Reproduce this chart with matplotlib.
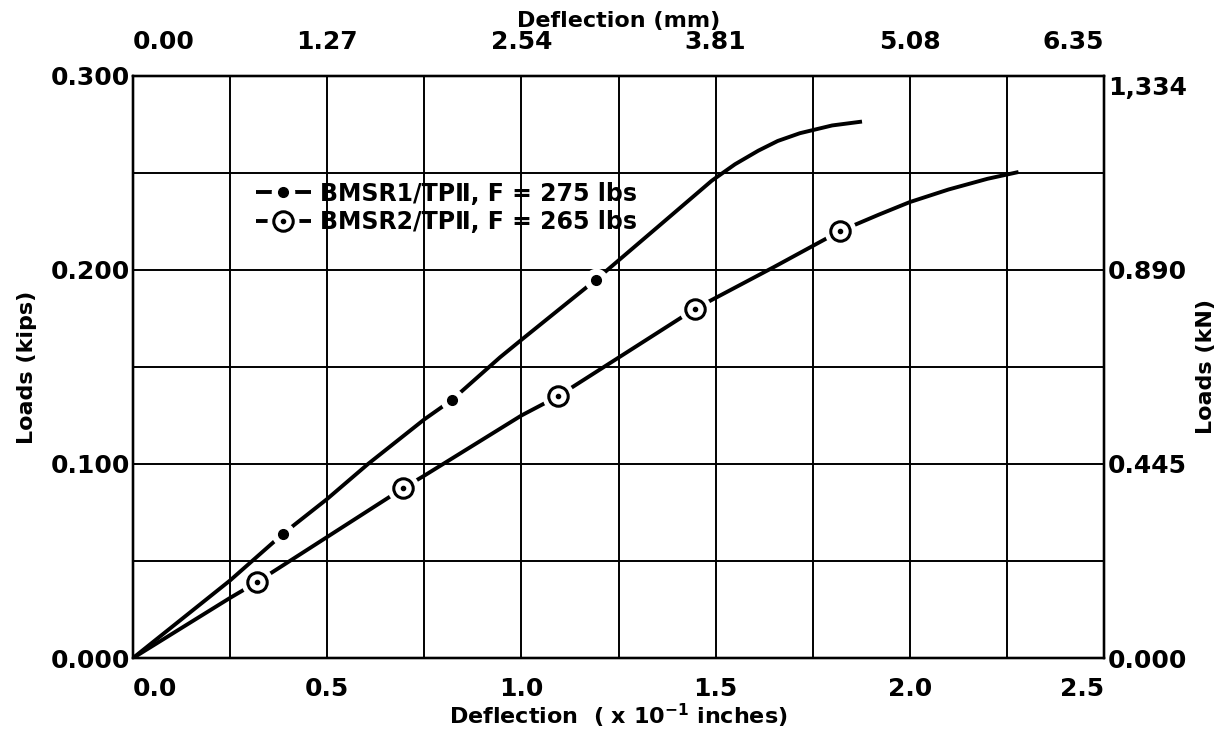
import matplotlib.pyplot as plt
from matplotlib.legend_handler import HandlerTuple

# Deflection in units of 1e-1 inches, loads in kips
s1_x = [0.0, 0.25, 0.386, 0.5, 0.605, 0.75, 0.821, 0.945, 1.0, 1.192, 1.35, 1.49, 1.55, 1.61, 1.66, 1.717, 1.8, 1.877]
s1_y = [0.0, 0.040, 0.064, 0.082, 0.100, 0.123, 0.133, 0.155, 0.164, 0.195, 0.222, 0.246, 0.2545, 0.2615, 0.2665, 0.2705, 0.2745, 0.2765]
s1_mark_x = [0.386, 0.821, 1.192]
s1_mark_y = [0.064, 0.133, 0.195]

s2_x = [0.0, 0.25, 0.318, 0.5, 0.696, 0.75, 1.0, 1.095, 1.447, 1.65, 1.82, 1.92, 2.0, 2.1, 2.2, 2.28]
s2_y = [0.0, 0.031, 0.039, 0.0624, 0.0876, 0.094, 0.125, 0.135, 0.180, 0.2015, 0.220, 0.2285, 0.235, 0.2415, 0.247, 0.2505]
s2_mark_x = [0.318, 0.696, 1.095, 1.447, 1.82]
s2_mark_y = [0.039, 0.0876, 0.135, 0.180, 0.220]

labels = ["BMSR1/TPⅡ, F = 275 lbs", "BMSR2/TPⅡ, F = 265 lbs"]

x_ticks = [0.0, 0.5, 1.0, 1.5, 2.0, 2.5]
x_labels = ["0.0", "0.5", "1.0", "1.5", "2.0", "2.5"]
mm_labels = ["0.00", "1.27", "2.54", "3.81", "5.08", "6.35"]
y_ticks = [0.0, 0.1, 0.2, 0.3]
kips_labels = ["0.000", "0.100", "0.200", "0.300"]
kn_labels = ["0.000", "0.445", "0.890", "1,334"]

plt.rcParams['font.family'] = ['DejaVu Sans']
plt.rcParams['font.weight'] = 'bold'

fig = plt.figure(figsize=(12.25, 7.42), dpi=100)
ax = fig.add_axes([0.1086, 0.1132, 0.7926, 0.7844])

ax.set_xlim(0, 2.5)
ax.set_ylim(0, 0.3)

# grid every 0.25 in x, 0.05 in y
for gx in [0.25 * i for i in range(1, 10)]:
    ax.axvline(gx, color='black', lw=1.4, zorder=1)
for gy in [0.05 * i for i in range(1, 6)]:
    ax.axhline(gy, color='black', lw=1.4, zorder=1)
for sp in ax.spines.values():
    sp.set_linewidth(1.6)

lw = 2.8
# series 1: line with small dots, gaps around dots
l1, = ax.plot(s1_x, s1_y, color='black', lw=lw, zorder=3, solid_capstyle='butt', solid_joinstyle='round')
h1, = ax.plot(s1_mark_x, s1_mark_y, ls='none', marker='o', ms=17, color='white', mec='none', zorder=4)
m1, = ax.plot(s1_mark_x, s1_mark_y, ls='none', marker='o', ms=7, color='black', zorder=5)

# series 2: line with dotted circles
l2, = ax.plot(s2_x, s2_y, color='black', lw=lw, zorder=3, solid_capstyle='butt', solid_joinstyle='round')
h2, = ax.plot(s2_mark_x, s2_mark_y, ls='none', marker='o', ms=23, color='white', mec='none', zorder=4)
m2, = ax.plot(s2_mark_x, s2_mark_y, ls='none', marker='o', ms=14, mfc='white', mec='black', mew=2.2, zorder=5)
c2, = ax.plot(s2_mark_x, s2_mark_y, ls='none', marker='o', ms=3, color='black', zorder=6)

leg = ax.legend([(l1, h1, m1), (l2, h2, m2, c2)], labels,
                handler_map={tuple: HandlerTuple(ndivide=1)},
                loc='upper left', bbox_to_anchor=(0.105, 0.855), frameon=False,
                handlelength=2.3, handletextpad=0.4, labelspacing=0.2,
                prop={'size': 17, 'weight': 'bold'})

tick_fs = 18
ax.set_xticks(x_ticks)
ax.set_xticklabels(x_labels, fontsize=tick_fs, fontweight='bold')
ax.set_yticks(y_ticks)
ax.set_yticklabels(kips_labels, fontsize=tick_fs, fontweight='bold')
ax.tick_params(axis='x', length=0, pad=14)
ax.tick_params(axis='y', length=0, pad=2)
ax.get_xticklabels()[0].set_horizontalalignment('left')
ax.get_xticklabels()[-1].set_horizontalalignment('right')

ax.set_xlabel("Deflection  ( x 10$^{\\mathbf{-1}}$ inches)", fontsize=16, fontweight='bold', labelpad=0)
ax.set_ylabel("Loads (kips)", fontsize=16, fontweight='bold', labelpad=10)

top = ax.twiny()
top.set_xlim(ax.get_xlim())
top.set_xticks(x_ticks)
top.set_xticklabels(mm_labels, fontsize=tick_fs, fontweight='bold')
top.tick_params(length=0, pad=16)
top.get_xticklabels()[0].set_horizontalalignment('left')
top.get_xticklabels()[-1].set_horizontalalignment('right')
top.set_xlabel("Deflection (mm)", fontsize=16, fontweight='bold', labelpad=2)

right = ax.twinx()
right.set_ylim(ax.get_ylim())
right.set_yticks(y_ticks)
right.set_yticklabels(kn_labels, fontsize=tick_fs, fontweight='bold')
right.tick_params(length=0, pad=3)
right.get_yticklabels()[-1].set_verticalalignment('top')
right.set_ylabel("Loads (kN)", fontsize=16, fontweight='bold', labelpad=6)

for a in (top, right):
    for sp in a.spines.values():
        sp.set_linewidth(1.6)

fig.savefig('out.png', dpi=100, facecolor='white')
